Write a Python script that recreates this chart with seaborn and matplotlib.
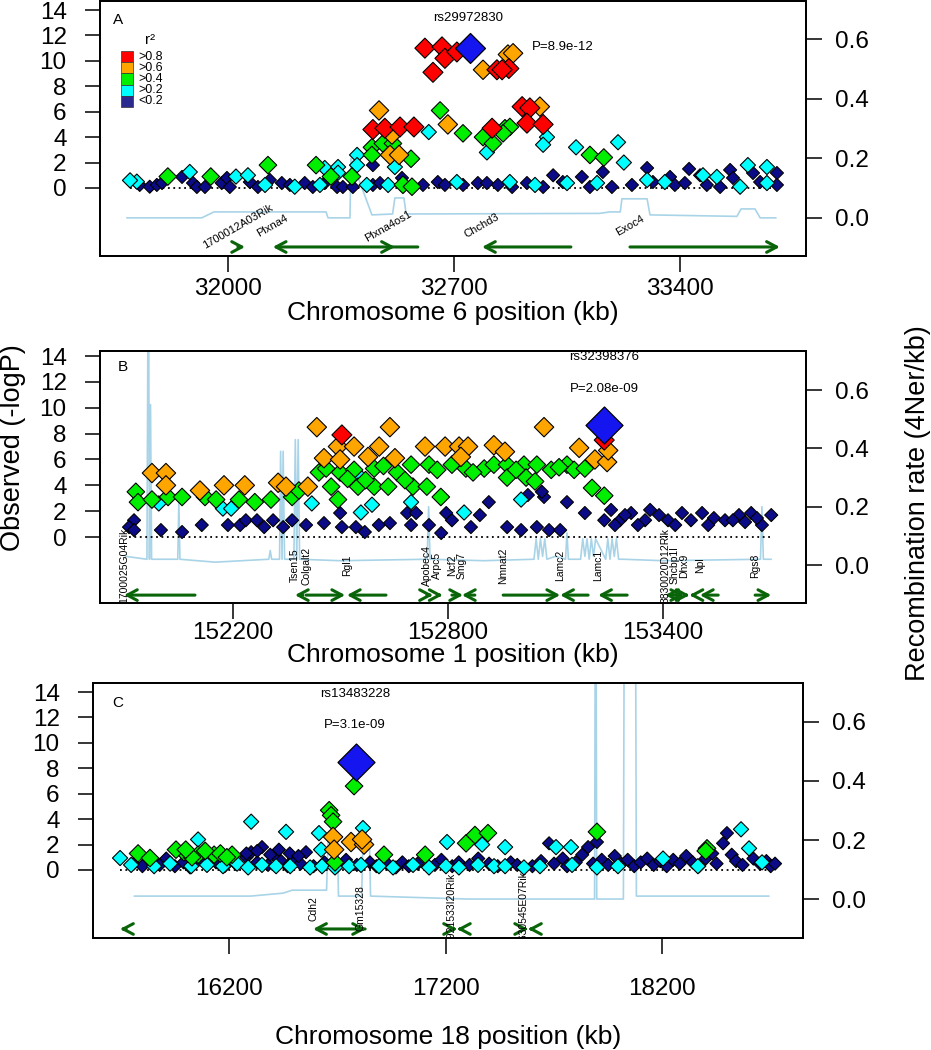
import matplotlib
matplotlib.use("Agg")
import matplotlib.pyplot as plt
from matplotlib.patches import Rectangle
import pandas as pd
import seaborn as sns

sns.set_theme(style="white")
plt.rcParams["font.family"] = ["Liberation Sans", "DejaVu Sans"]
plt.rcParams.update({"text.color": "black", "axes.labelcolor": "black",
                     "xtick.color": "black", "ytick.color": "black",
                     "axes.edgecolor": "black"})

# ---------------- r2 classes ----------------
CLASS_ORDER = ["<0.2", ">0.2", ">0.4", ">0.6", ">0.8"]
CLASS_COLORS = {"<0.2": "#0B0B88", ">0.2": "#00FFFF", ">0.4": "#00EE00",
                ">0.6": "#FFA500", ">0.8": "#FF0000"}
CLASS_SIZES = {"<0.2": 44, ">0.2": 60, ">0.4": 80, ">0.6": 98, ">0.8": 104}
LEGEND_LABELS = [">0.8", ">0.6", ">0.4", ">0.2", "<0.2"]
LEGEND_COLORS = ["#FF0000", "#FFA500", "#00EE00", "#00FFFF", "#2B2B8F"]

# ---------------- Panel A : chromosome 6 ----------------
A_lead = (32749, 11.05)
A_red = [(32610, 11.0), (32663, 11.1), (32672, 10.2), (32709, 10.7), (32635, 9.1), (32833, 9.3),
         (32870, 9.4), (32849, 9.3), (32449, 4.6), (32486, 4.7), (32533, 4.8), (32576, 4.8),
         (32818, 4.7), (32911, 6.4), (32935, 6.3), (32926, 5.1), (32976, 5.0)]
A_orange = [(32790, 9.3), (32867, 10.5), (32883, 10.6), (32468, 6.1), (32508, 4.2), (32502, 2.6),
            (32530, 2.6), (32681, 5.0), (32966, 6.4)]
A_green = [(32446, 3.2), (32480, 3.5), (32511, 3.5), (32567, 2.3), (32446, 2.6), (32384, 0.9),
           (32273, 1.8), (32319, 0.9), (32124, 1.8), (32657, 6.1), (32728, 4.3), (32790, 4.0),
           (32821, 3.5), (32858, 4.7), (32873, 4.8), (32852, 4.3), (33121, 2.6), (33164, 2.4),
           (31814, 0.9), (31947, 0.9), (32542, 0.25), (32570, 0.1)]
A_cyan = [(32622, 4.4), (32517, 1.65), (32400, 2.6), (32400, 1.8), (32988, 4.0), (32976, 3.4),
          (33078, 3.2), (33208, 3.6), (33226, 2.0), (32802, 2.8), (32300, 1.57), (32341, 1.65),
          (32341, 1.2), (31718, 0.5), (31697, 0.6), (31882, 1.26), (32025, 0.9), (32062, 1.0),
          (32115, 0.24), (32285, 0.24), (32207, 0.1), (32430, 0.24), (32496, 0.24), (32709, 0.47),
          (32873, 0.47), (32951, 0.24), (33050, 0.39), (33143, 0.39), (33298, 0.63), (33353, 0.47),
          (33471, 1.0), (33514, 0.87), (33610, 1.8), (33669, 1.65), (33586, 0.1), (33669, 0.39)]
A_navy = [(31727, 0.24), (31758, 0.1), (31780, 0.24), (31796, 0.39), (31858, 0.87), (31892, 0.39),
          (31904, 0.08), (31929, 0.08), (31981, 0.39), (31997, 0.79), (32006, 0.08), (32068, 0.47),
          (32093, 0.08), (32130, 0.63), (32167, 0.39), (32192, 0.24), (32238, 0.39), (32263, 0.08),
          (32300, 0.39), (32338, 0.08), (32356, 0.08), (32387, 0.08), (32449, 1.8), (32449, 0.24),
          (32471, 0.39), (32539, 0.79), (32604, 0.24), (32650, 0.47), (32672, 0.24), (32728, 0.24),
          (32774, 0.39), (32802, 0.39), (32836, 0.24), (32880, 0.08), (32926, 0.39), (32976, 0.08),
          (33007, 1.0), (33037, 0.47), (33096, 0.87), (33121, 0.08), (33161, 1.26), (33189, 0.08),
          (33251, 0.24), (33298, 1.57), (33316, 0.47), (33369, 0.87), (33384, 0.24), (33415, 0.39),
          (33428, 1.5), (33462, 1.0), (33483, 0.24), (33524, 0.08), (33555, 1.42), (33564, 0.79),
          (33626, 1.18), (33648, 0.47), (33700, 1.18), (33700, 0.24)]
A_recomb = [(31687, 0.0), (31919, 0.0), (31957, 0.02), (32304, 0.02), (32310, 0.0), (32378, 0.0),
            (32381, 0.2), (32446, 0.01), (32510, 0.013), (32517, 0.067), (32545, 0.067),
            (32552, 0.013), (33150, 0.015), (33183, 0.02), (33215, 0.02), (33220, 0.064),
            (33298, 0.064), (33307, 0.01), (33576, 0.005), (33589, 0.03), (33632, 0.03),
            (33648, 0.0), (33697, 0.0)]
A_genes = [("1700012A03Rik", 32031, 32053, "+"), ("Plxna4", 32139, 32588, "-"),
           ("Plxna4os1", 32496, 32517, "+"), ("Chchd3", 32787, 33062, "-"),
           ("Exoc4", 33245, 33709, "+")]

# ---------------- Panel B : chromosome 1 ----------------
B_lead = (153236, 8.68)
B_red = [(152504, 7.9), (153236, 7.5)]
B_orange = [(151974, 4.95), (152013, 4.95), (152013, 4.0), (152108, 3.6), (152175, 4.0), (152233, 4.0),
            (152326, 4.2), (152348, 3.9), (152409, 3.9), (152434, 8.5), (152454, 6.1), (152493, 7.0),
            (152499, 6.0), (152538, 7.0), (152577, 6.2), (152608, 7.0), (152652, 6.1), (152638, 8.5),
            (152736, 7.0), (152792, 7.0), (152831, 7.0), (152856, 7.0), (152836, 6.2), (152928, 7.1),
            (152959, 6.6), (153068, 8.5), (153166, 6.9), (153210, 6.0), (153244, 5.8), (153247, 6.7)]
B_green = [(151929, 3.5), (151935, 2.7), (151974, 2.9), (152019, 3.1), (152058, 3.1), (152122, 3.1),
           (152153, 2.9), (152217, 2.9), (152261, 2.7), (152306, 2.9), (152365, 3.1), (152384, 3.6),
           (152440, 5.0), (152474, 3.9), (152493, 2.9), (152499, 5.0), (152538, 5.2), (152549, 3.9),
           (152594, 5.3), (152594, 3.9), (152633, 3.9), (152658, 5.0), (152697, 5.6), (152702, 3.9),
           (152747, 5.6), (152741, 3.9), (152780, 3.1), (152811, 5.6), (152850, 5.3), (152901, 5.3),
           (152928, 5.6), (152965, 5.6), (152965, 4.6), (153012, 5.6), (153048, 5.6), (153018, 4.6),
           (153043, 4.3), (153088, 5.2), (153132, 5.6), (153152, 5.2), (153182, 5.3), (153202, 3.8),
           (153236, 3.2), (152520, 4.5), (152620, 5.5), (152680, 4.4), (152770, 5.2), (152870, 5.0),
           (152990, 5.2), (153110, 5.4), (152460, 5.3), (152570, 4.4)]
B_cyan = [(151993, 2.6), (152172, 2.2), (152195, 2.2), (152420, 2.6), (152557, 4.6), (152588, 2.5),
          (152557, 1.9), (152697, 2.7), (152845, 1.9), (153004, 2.9)]
B_navy = [(151924, 1.3), (151910, 0.77), (151924, 0.54), (151999, 0.54), (152058, 0.39), (152113, 0.93),
          (152186, 0.93), (152220, 0.93), (152236, 1.3), (152267, 1.3), (152287, 0.77), (152312, 1.3),
          (152340, 0.77), (152365, 1.3), (152404, 0.93), (152454, 1.08), (152499, 1.86), (152504, 0.77),
          (152543, 0.77), (152568, 0.39), (152607, 0.93), (152638, 1.08), (152686, 1.86), (152711, 1.86),
          (152697, 0.93), (152747, 0.93), (152781, 0.31), (152795, 1.86), (152811, 1.3), (152864, 0.77),
          (152889, 1.7), (152914, 2.7), (152965, 0.77), (153004, 0.54), (153048, 0.77), (153082, 0.54),
          (153113, 0.54), (153023, 3.25), (153068, 3.1), (153062, 3.5), (153132, 2.7), (153182, 1.86),
          (153236, 1.3), (153255, 2.1), (153280, 1.3), (153311, 1.86), (153350, 1.3), (153364, 2.1),
          (153389, 1.7), (153453, 1.86), (153478, 1.3), (153509, 1.86), (153542, 1.47), (153573, 1.3),
          (153612, 1.7), (153646, 1.86), (153676, 0.93), (153702, 1.7), (153266, 0.93), (153294, 1.7),
          (153330, 0.93), (153414, 1.3), (153434, 0.93), (153526, 0.93), (153595, 1.3), (153629, 1.16),
          (153662, 1.47)]
B_recomb = [(151900, 0.03), (151960, 0.02), (151964, 1.2), (151967, 0.02), (151970, 0.55),
            (151973, 0.02), (152046, 0.02), (152049, 0.22), (152052, 0.02), (152150, 0.01),
            (152300, 0.02), (152304, 0.05), (152308, 0.02), (152330, 0.02), (152333, 0.39),
            (152337, 0.02), (152340, 0.39), (152344, 0.02), (152370, 0.02), (152374, 0.43),
            (152378, 0.02), (152382, 0.43), (152386, 0.02), (152500, 0.015), (152742, 0.02),
            (152746, 0.2), (152750, 0.02), (152900, 0.015), (153040, 0.02), (153046, 0.09),
            (153052, 0.02), (153058, 0.09), (153064, 0.03), (153070, 0.09), (153076, 0.02),
            (153100, 0.03), (153128, 0.02), (153132, 0.11), (153136, 0.02), (153170, 0.02),
            (153176, 0.09), (153182, 0.03), (153188, 0.09), (153194, 0.02), (153200, 0.09),
            (153206, 0.03), (153212, 0.09), (153240, 0.02), (153246, 0.09), (153252, 0.02),
            (153258, 0.09), (153264, 0.03), (153270, 0.09), (153276, 0.02), (153290, 0.02),
            (153400, 0.015), (153672, 0.02), (153676, 0.2), (153680, 0.02), (153702, 0.02)]
B_genes = [("1700025G04Rik", 151896, 152094, "-"), ("Tsen15", 152373, 152395, "-"),
           ("Colgalt2", 152404, 152513, "+"), ("Rgl1", 152518, 152627, "-"),
           ("Apobec4", 152741, 152758, "+"), ("Arpc5", 152770, 152785, "+"),
           ("Ncf2", 152811, 152842, "+"), ("Smg7", 152839, 152875, "-"),
           ("Nmnat2", 152954, 153113, "+"), ("Lamc2", 153113, 153191, "-"),
           ("Lamc1", 153219, 153300, "-"), ("3830020D12Rik", 153406, 153426, "-"),
           ("Shcbp1l", 153431, 153459, "+"), ("Dhx9", 153459, 153489, "x"),
           ("Npl", 153503, 153554, "-"), ("Rgs8", 153657, 153702, "+")]

# ---------------- Panel C : chromosome 18 ----------------
C_lead = (16786, 8.51)
C_red = []
C_orange = [(16680, 2.6), (16685, 1.6), (16763, 2.2), (16823, 2.0), (16814, 2.4)]
C_green = [(16777, 6.6), (16662, 4.7), (16671, 4.3), (16680, 3.8), (17294, 2.1), (17335, 2.75),
           (17395, 2.9), (16915, 1.2), (17105, 1.2), (17898, 3.0), (18406, 1.7), (15780, 1.3),
           (15835, 0.94), (15992, 1.4), (16057, 1.2), (16131, 1.2), (16214, 1.2), (16689, 0.6),
           (16029, 1.0), (15955, 1.6), (18400, 1.5), (16000, 1.6), (16090, 1.5), (16160, 1.3),
           (16190, 1.0)]
C_cyan = [(16302, 3.8), (16463, 3.0), (16818, 3.3), (16615, 2.9), (16625, 1.6), (17206, 2.2),
          (17368, 2.0), (17474, 1.8), (17709, 1.8), (17778, 1.8), (18563, 3.2), (18600, 1.7),
          (16057, 2.4), (15697, 0.94), (15748, 0.4), (15854, 0.3), (15928, 0.5), (16025, 0.3),
          (16098, 0.4), (16172, 0.3), (16237, 0.5), (16288, 0.2), (16352, 0.4), (16417, 0.3),
          (16482, 0.3), (16574, 0.2), (16629, 0.3), (16689, 0.2), (16754, 0.3), (16809, 0.4),
          (16892, 0.3), (16957, 0.2), (17049, 0.4), (17123, 0.2), (17201, 0.3), (17261, 0.2),
          (17349, 0.4), (17423, 0.3), (17474, 0.3), (17561, 0.2), (17635, 0.3), (17783, 0.4),
          (17898, 0.2), (17995, 0.3), (18203, 0.9), (18364, 0.3), (18660, 0.6)]
C_navy = [(15760, 0.5), (15800, 0.3), (15850, 0.7), (15880, 0.4), (15910, 0.9), (15950, 0.3),
          (15990, 0.6), (16020, 0.2), (16060, 0.8), (16100, 0.4), (16140, 0.6), (16180, 0.3),
          (16230, 0.5), (16280, 1.0), (16302, 1.4), (16330, 0.6), (16352, 1.8), (16380, 0.4),
          (16410, 1.1), (16440, 0.7), (16470, 0.3), (16500, 0.9), (16530, 0.5), (16555, 1.4),
          (16590, 0.3), (16640, 0.6), (16700, 0.3), (16740, 0.8), (16790, 0.4), (16850, 0.6),
          (16880, 0.3), (16930, 0.5), (16970, 0.2), (17000, 0.6), (17030, 0.3), (17070, 0.5),
          (17150, 0.4), (17180, 0.8), (17230, 0.3), (17260, 0.6), (17310, 0.4), (17350, 0.9),
          (17400, 0.5), (17440, 0.3), (17500, 0.6), (17530, 0.4), (17600, 0.3), (17640, 0.7),
          (17677, 2.1), (17700, 0.5), (17740, 0.9), (17760, 0.3), (17800, 0.6), (17830, 1.2),
          (17857, 1.8), (17880, 0.5), (17898, 2.2), (17920, 0.8), (17950, 0.4), (17980, 1.1),
          (18010, 0.5), (18040, 0.8), (18070, 0.3), (18100, 0.6), (18130, 0.9), (18160, 0.4),
          (18190, 0.7), (18220, 0.3), (18250, 0.8), (18280, 0.5), (18310, 1.1), (18340, 0.6),
          (18370, 0.3), (18400, 0.9), (18430, 1.3), (18450, 0.5), (18480, 2.1), (18498, 2.9),
          (18520, 1.2), (18540, 0.7), (18570, 0.4), (18620, 0.9), (18650, 0.5), (18680, 0.7),
          (18700, 0.3), (18720, 0.5), (16280, 1.3), (16330, 1.5), (16390, 1.2), (16430, 1.6),
          (16480, 1.3), (16520, 1.1)]
C_recomb = [(15762, 0.01), (16300, 0.01), (16450, 0.02), (16491, 0.03), (16650, 0.03), (16657, 0.2),
            (16700, 0.2), (16705, 0.01), (16812, 0.01), (16818, 0.2), (16848, 0.2), (16853, 0.01),
            (17300, 0.0), (17887, 0.0), (17892, 1.5), (17897, 0.0), (18020, 0.0), (18026, 1.5),
            (18074, 1.5), (18080, 0.01), (18692, 0.01)]
C_genes = [("", 15697, 15725, "-"), ("Cdh2", 16588, 16828, "-"), ("Gm15328", 16805, 16832, "+"),
           ("4921533I20Rik", 17229, 17275, "x"), ("9630545E07Rik", 17557, 17603, "x")]

W, H = 931, 1050
fig = plt.figure(figsize=(W / 100, H / 100), dpi=100)
GENE_COLOR = "#0A650A"
TICK_FS = 17.5


def arrow(ax, tail, head, y):
    ax.annotate("", xy=(head, y), xytext=(tail, y),
                arrowprops=dict(arrowstyle="->,head_length=0.6,head_width=0.32", color=GENE_COLOR,
                                lw=2.2, shrinkA=0, shrinkB=0, mutation_scale=12),
                annotation_clip=False)


def draw_panel(box, xlim, ylim, rlim, xticks, xlabel, xlabel_y, xpad, groups, lead, lead_s,
               rs_text, rs_pos, p_text, p_pos, p_ha, recomb, genes, gene_rot, gene_fs,
               label_y, arrow_y, letter, letter_xy):
    l, t, r, b = box
    ax = fig.add_axes([l / W, 1 - b / H, (r - l) / W, (b - t) / H])
    ax2 = ax.twinx()
    ax.set_zorder(ax2.get_zorder() + 1)
    ax.patch.set_visible(False)

    rec = pd.DataFrame(recomb, columns=["pos", "rate"])
    sns.lineplot(data=rec, x="pos", y="rate", ax=ax2, color="#A9D4E8", lw=1.2,
                 sort=False, estimator=None, errorbar=None)

    rows = [(p, v, cls) for cls, pts in groups.items() for p, v in pts]
    df = pd.DataFrame(rows, columns=["pos", "logp", "cls"])
    df["cls"] = pd.Categorical(df["cls"], CLASS_ORDER, ordered=True)
    df = df.sort_values("cls", kind="stable")
    ax.plot([df["pos"].min(), df["pos"].max()], [0, 0], ls=(0, (1, 2)), color="black", lw=1.3, zorder=2)
    sns.scatterplot(data=df, x="pos", y="logp", hue="cls", hue_order=CLASS_ORDER, palette=CLASS_COLORS,
                    size="cls", size_order=CLASS_ORDER, sizes=CLASS_SIZES, marker="D",
                    edgecolor="black", linewidth=0.8, legend=False, ax=ax, zorder=3)
    sns.scatterplot(x=[lead[0]], y=[lead[1]], s=lead_s, color="#1515F0", marker="D",
                    edgecolor="black", linewidth=0.9, legend=False, ax=ax, zorder=4)

    ax.text(rs_pos[0], rs_pos[1], rs_text, ha="center", va="center", fontsize=9.5)
    ax.text(p_pos[0], p_pos[1], p_text, ha=p_ha, va="center", fontsize=9.5)

    for name, s, e, strand in genes:
        if strand == "+":
            arrow(ax, s, e, arrow_y)
        elif strand == "-":
            arrow(ax, e, s, arrow_y)
        else:
            mid = (s + e) / 2
            arrow(ax, s, mid, arrow_y)
            arrow(ax, e, mid, arrow_y)
        if name:
            ax.text(s, label_y, name, rotation=gene_rot, ha="center", va="center",
                    fontsize=gene_fs, clip_on=True)

    ax.text(letter_xy[0], letter_xy[1], letter, transform=ax.transAxes, ha="center", va="center",
            fontsize=11)

    ax.set_xlim(xlim)
    ax.set_ylim(ylim)
    ax2.set_ylim(rlim)
    ax.set_xticks(xticks)
    ax.set_xticklabels([str(v) for v in xticks], fontsize=TICK_FS)
    ax.set_yticks(list(range(0, 15, 2)))
    ax.set_yticklabels([str(v) for v in range(0, 15, 2)], fontsize=TICK_FS)
    ax2.set_yticks([0, 0.2, 0.4, 0.6])
    ax2.set_yticklabels(["0.0", "0.2", "0.4", "0.6"], fontsize=TICK_FS)
    ax.tick_params(axis="x", bottom=True, length=11.5, width=1.1, pad=xpad)
    ax.tick_params(axis="y", left=True, length=11, width=1.1, pad=13)
    ax2.tick_params(axis="y", right=True, length=11.5, width=1.1, pad=9.5)
    ax.set_xlabel("")
    ax.set_ylabel("")
    ax2.set_ylabel("")
    for a in (ax, ax2):
        for sp in a.spines.values():
            sp.set_linewidth(1.3)
            sp.set_color("black")
    fig.text((l + r) / 2 / W, 1 - xlabel_y / H, xlabel, ha="center", va="center", fontsize=19)
    return ax


axA = draw_panel((100, 1, 806, 256), (31604, 33790), (-5.35, 14.71), (-0.128, 0.728),
                 [32000, 32700, 33400], "Chromosome 6 position (kb)", 313, 4,
                 {"<0.2": A_navy, ">0.2": A_cyan, ">0.4": A_green, ">0.6": A_orange, ">0.8": A_red},
                 A_lead, 233, "rs29972830", (32745, 13.4), "P=8.9e-12", (32941, 11.1), "left",
                 A_recomb, A_genes, 30, 8, -3.0, -4.64, "A", (0.0255, 0.925))

axB = draw_panel((100, 351, 806, 603), (151829, 153799), (-5.10, 14.39), (-0.130, 0.734),
                 [152200, 152800, 153400], "Chromosome 1 position (kb)", 655, 2.5,
                 {"<0.2": B_navy, ">0.2": B_cyan, ">0.4": B_green, ">0.6": B_orange, ">0.8": B_red},
                 B_lead, 355, "rs32398376", (153236, 13.9), "P=2.08e-09", (153236, 11.45), "center",
                 B_recomb, B_genes, 90, 7.5, -2.2, -4.49, "B", (0.0326, 0.937))

axC = draw_panel((93, 683, 803, 938), (15572, 18849), (-5.35, 14.71), (-0.132, 0.732),
                 [16200, 17200, 18200], "Chromosome 18 position (kb)", 1037, 17.6,
                 {"<0.2": C_navy, ">0.2": C_cyan, ">0.4": C_green, ">0.6": C_orange, ">0.8": C_red},
                 C_lead, 355, "rs13483228", (16781, 13.85), "P=3.1e-09", (16781, 11.4), "center",
                 C_recomb, C_genes, 90, 7.5, -3.0, -4.64, "C", (0.035, 0.922))

# r2 legend in panel A
axA.text((150 - 100) / 706, (256 - 40) / 255, "r²", transform=axA.transAxes, ha="center",
         va="center", fontsize=11)
for i, (lab, col) in enumerate(zip(LEGEND_LABELS, LEGEND_COLORS)):
    top = 51 + 11.2 * i
    axA.add_patch(Rectangle(((121 - 100) / 706, (256 - top - 11.2) / 255), 12 / 706, 11.2 / 255,
                            transform=axA.transAxes, facecolor=col, edgecolor="#333333", lw=0.5,
                            zorder=5))
    axA.text((138 - 100) / 706, (256 - top - 5.6) / 255, lab, transform=axA.transAxes,
             ha="left", va="center", fontsize=9)

fig.text(13 / W, 1 - 448 / H, "Observed (-logP)", rotation=90, ha="center", va="center", fontsize=19.5)
fig.text(918 / W, 1 - 503 / H, "Recombination rate (4Ner/kb)", rotation=90, ha="center",
         va="center", fontsize=19.5)

fig.savefig("out.png", dpi=100)
